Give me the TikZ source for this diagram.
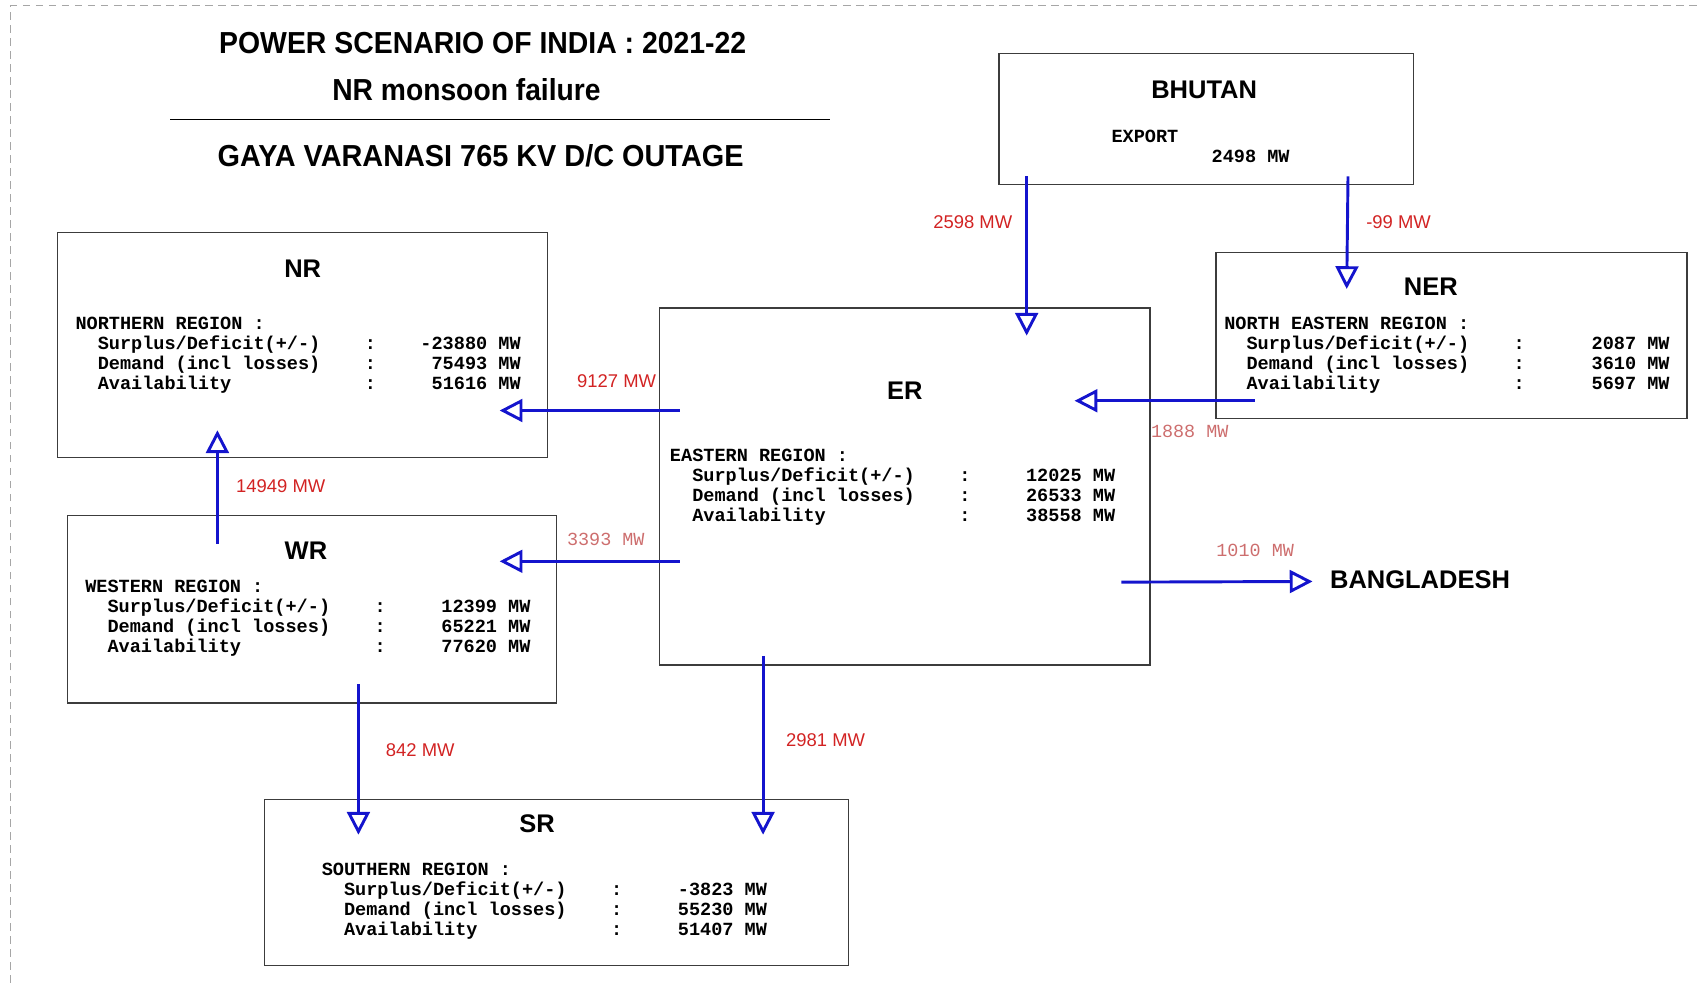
\documentclass[tikz,border=0pt]{standalone}
\usepackage{fontspec}
\setmainfont{Liberation Sans}
\setmonofont{Liberation Mono}
\usepackage{tikz}
\usetikzlibrary{arrows.meta, positioning, calc}

\definecolor{flowblue}{RGB}{20,20,205}
\definecolor{flowred}{RGB}{210,35,35}
\definecolor{flowpink}{RGB}{205,110,110}
\definecolor{boxgray}{RGB}{60,60,60}

% one data line of a region box
\newcommand{\regline}[2]{\hspace*{1.2em}\makebox[14.4em][l]{#1}:\makebox[7.8em][r]{#2}}
\newcommand{\regtext}[4]{%
  \begin{tabular}[t]{@{}l@{}}
    #1 :\\
    \regline{Surplus/Deficit(+/-)}{#2}\\
    \regline{Demand (incl losses)}{#3}\\
    \regline{Availability}{#4}
  \end{tabular}}

\begin{document}
\begin{tikzpicture}[
        x=1pt, y=-1pt,
        region/.style={draw=boxgray, line width=1.2pt, rectangle, inner sep=0pt},
        regname/.style={font=\fontsize{23.5}{28}\selectfont\bfseries, inner sep=0pt},
        regdata/.style={font=\fontsize{17.1}{18.4}\selectfont\ttfamily\bfseries, inner sep=0pt, anchor=base west},
        headline/.style={font=\fontsize{28}{30}\selectfont\bfseries\addfontfeature{FakeStretch=#1}, inner sep=0pt},
        headline/.default=0.935,
        flow/.style={draw=flowblue, line width=2.7pt, -{Triangle[open, length=21pt, width=21pt]}},
        mwlabel/.style={text=flowred, font=\fontsize{17}{20}\selectfont, inner sep=0pt},
        mwmono/.style={text=flowpink, font=\fontsize{17}{20}\selectfont\ttfamily, inner sep=0pt}
    ]
        \useasboundingbox (0,0) rectangle (1568,906);
        \draw[gray!70, line width=0.8pt, dash pattern=on 7pt off 5pt] (10,906) |- (1568,5);

        % Titles
        \node[headline] (title) at (445,40) {POWER SCENARIO OF INDIA : 2021-22};
        \node[headline=0.93] (subtitle) at (430,83) {NR monsoon failure};
        \draw[line width=0.9pt] (157,110) -- (765,110);
        \node[headline=0.95] (outage) at (443,144) {GAYA VARANASI 765 KV D/C OUTAGE};

        % Region boxes
        \node[region, minimum width=382pt, minimum height=121pt] (bhutan) at (1112,109.5) {};
        \node[region, minimum width=452pt, minimum height=208pt] (nr) at (279,318) {};
        \node[region, minimum width=452pt, minimum height=329pt] (er) at (834,448.5) {};
        \node[region, minimum width=434pt, minimum height=153pt] (ner) at (1338,309.5) {};
        \node[region, minimum width=451pt, minimum height=173pt] (wr) at (287.5,561.5) {};
        \node[region, minimum width=538pt, minimum height=153pt] (sr) at (513,813.5) {};
        \node[regname] (bangladesh) at (1309,534) {BANGLADESH};

        % Names and data
        \node[regname] (bhutanname) at ([xshift=-2pt,yshift=-34pt]bhutan.north) {BHUTAN};
        \node[regdata] (bhutandata) at ([xshift=104pt,yshift=-83pt]bhutan.north west)
            {\begin{tabular}[t]{@{}l@{}}EXPORT\\\hspace*{5.4em}2498 MW\end{tabular}};

        \node[regname] (nrname) at ([yshift=-34pt]nr.north) {NR};
        \node[regdata] (nrdata) at ([xshift=17pt,yshift=-90pt]nr.north west)
            {\regtext{NORTHERN REGION}{-23880 MW}{75493 MW}{51616 MW}};

        \node[regname] (ername) at ([yshift=-77pt]er.north) {ER};
        \node[regdata] (erdata) at ([xshift=10pt,yshift=-142pt]er.north west)
            {\regtext{EASTERN REGION}{12025 MW}{26533 MW}{38558 MW}};

        \node[regname] (nername) at ([xshift=-19pt,yshift=-32pt]ner.north) {NER};
        \node[regdata] (nerdata) at ([xshift=8pt,yshift=-71pt]ner.north west)
            {\regtext{NORTH EASTERN REGION}{2087 MW}{3610 MW}{5697 MW}};

        \node[regname] (wrname) at ([xshift=-5.5pt,yshift=-33pt]wr.north) {WR};
        \node[regdata] (wrdata) at ([xshift=17pt,yshift=-72pt]wr.north west)
            {\regtext{WESTERN REGION}{12399 MW}{65221 MW}{77620 MW}};

        \node[regname] (srname) at ([xshift=-18pt,yshift=-23pt]sr.north) {SR};
        \node[regdata] (srdata) at ([xshift=53pt,yshift=-71pt]sr.north west)
            {\regtext{SOUTHERN REGION}{-3823 MW}{55230 MW}{51407 MW}};

        % Power flows
        \draw[flow] ($(bhutan.south west)+(26,-8)$) -- node[mwlabel, pos=0.29, left=12pt] (f2598) {2598 MW} ($(er.north west)+(339,26)$);
        \draw[flow] ($(bhutan.south east)+(-61,-8)$) -- node[mwlabel, pos=0.41, right=16pt] (f99) {-99 MW} ($(ner.north west)+(121,34)$);
        \draw[flow] ($(er.north west)+(19,95)$) -- node[mwlabel, pos=0.35, above=20pt] (f9127) {9127 MW} ($(nr.north east)+(-45,165)$);
        \draw[flow] ($(ner.north west)+(36,137)$) -- node[mwmono, pos=0.36, below=21pt] (f1888) {1888 MW} ($(er.north east)+(-70,86)$);
        \draw[flow] ($(wr.north west)+(139,27)$) -- node[mwlabel, pos=0.51, right=16pt] (f14949) {14949 MW} ($(nr.south west)+(148,-26)$);
        \draw[flow] ($(er.north west)+(19,234)$) -- node[mwmono, pos=0.41, above=13pt] (f3393) {3393 MW} ($(wr.north east)+(-53,43)$);
        \draw[flow] ($(er.south east)+(-27,-77)$) -- node[mwmono, pos=0.70, above=22pt] (f1010) {1010 MW} ($(bangladesh.west)+(-16,2)$);
        \draw[flow] ($(wr.south west)+(269,-18)$) -- node[mwlabel, pos=0.44, right=24pt] (f842) {842 MW} ($(sr.north west)+(87,33)$);
        \draw[flow] ($(er.south west)+(96,-9)$) -- node[mwlabel, pos=0.47, right=20pt] (f2981) {2981 MW} ($(sr.north west)+(460,33)$);
    \end{tikzpicture}
\end{document}
